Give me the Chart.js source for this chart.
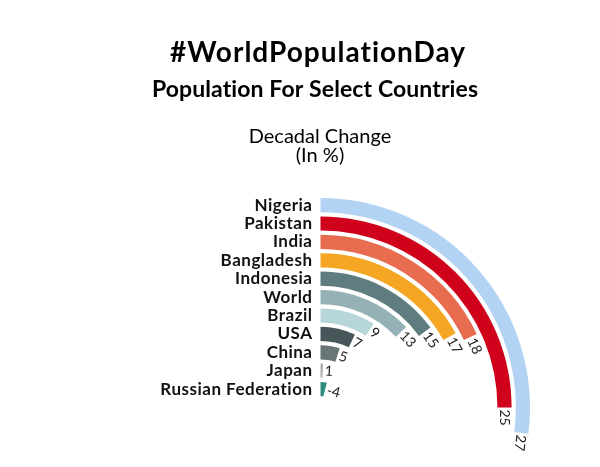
<!DOCTYPE html>
<html>
<head>
<meta charset="utf-8">
<title>#WorldPopulationDay</title>
<script src="https://cdn.jsdelivr.net/npm/chart.js@4.4.1/dist/chart.umd.min.js"></script>
<style>
  html, body { margin: 0; padding: 0; background: #fff; }
  #wrap { position: relative; width: 600px; height: 467px; }
</style>
</head>
<body>
<div id="wrap"><canvas id="radialChart"></canvas></div>
<script>
// data
var countries = ['Nigeria', 'Pakistan', 'India', 'Bangladesh', 'Indonesia', 'World',
  'Brazil', 'USA', 'China', 'Japan', 'Russian Federation'];
var decadalChange = [27, 25, 18, 17, 15, 13, 9, 7, 5, 1, -4];
var ringColors = ['#b3d3f4', '#d0021b', '#e86c4f', '#f5a623', '#5f7d80', '#94b1b5',
  '#b7d6da', '#475659', '#687678', '#aab2b6', '#2e8a7b'];
var fullTurn = 100; // 100 % = one full turn

var titleLines = ['#WorldPopulationDay', 'Population For Select Countries'];
var subtitleLines = ['Decadal Change', '(In %)'];

var ringWeight = 14.2;
var gapWeight = 4.2;

// one ring per country, with a thin empty ring between them
var datasets = [];
countries.forEach(function (name, i) {
  if (i > 0) {
    datasets.push({ data: [1], backgroundColor: 'rgba(0,0,0,0)', borderWidth: 0, weight: gapWeight, spacer: true });
  }
  datasets.push({
    label: name,
    data: [decadalChange[i], fullTurn - Math.abs(decadalChange[i])],
    backgroundColor: [ringColors[i], 'rgba(0,0,0,0)'],
    borderWidth: 0,
    weight: ringWeight
  });
});

var textPlugin = {
  id: 'radialText',
  afterDraw: function (chart) {
    var ctx = chart.ctx;
    ctx.save();
    ctx.textRendering = 'optimizeSpeed'; // no "ti" ligature in Lato
    ctx.fillStyle = '#000';
    ctx.textAlign = 'center';
    ctx.textBaseline = 'alphabetic';
    ctx.letterSpacing = '1px';
    ctx.font = 'bold 28px Lato';
    ctx.fillText(titleLines[0], 318, 62);
    ctx.letterSpacing = '0.1px';
    ctx.font = 'bold 23px Lato';
    ctx.fillText(titleLines[1], 315, 97);
    ctx.letterSpacing = '0px';
    ctx.font = '20px Lato';
    ctx.fillText(subtitleLines[0], 320, 143);
    ctx.fillText(subtitleLines[1], 320, 162);

    chart.data.datasets.forEach(function (ds, di) {
      if (ds.spacer) return;
      var arc = chart.getDatasetMeta(di).data[0];
      var midR = (arc.innerRadius + arc.outerRadius) / 2;

      // country name to the left of the ring start
      ctx.fillStyle = '#111';
      ctx.font = 'bold 17px Lato';
      ctx.letterSpacing = '0.5px';
      ctx.textAlign = 'right';
      ctx.textBaseline = 'middle';
      ctx.fillText(ds.label, arc.x - 8, arc.y - midR);
      ctx.letterSpacing = '0px';

      // value at the end of the ring, turned along the ring
      var a = arc.endAngle;
      ctx.save();
      ctx.translate(arc.x + midR * Math.cos(a), arc.y + midR * Math.sin(a));
      ctx.rotate(a + Math.PI / 2);
      ctx.fillStyle = '#222';
      ctx.font = '14px Lato';
      ctx.textAlign = 'left';
      ctx.fillText(String(ds.data[0]), 2, 0);
      ctx.restore();
    });
    ctx.restore();
  }
};

var contexto = document.getElementById('radialChart');
var grafico = new Chart(contexto, {
  type: 'doughnut',
  data: {
    labels: ['value', 'rest'],
    datasets: datasets
  },
  options: {
    responsive: true,
    maintainAspectRatio: false,
    animation: false,
    events: [],
    radius: 209.5,
    cutout: '5.4%',
    rotation: 0,
    circumference: 360,
    layout: {
      padding: { left: 41, right: 0, top: 348, bottom: 0 }
    },
    plugins: {
      legend: { display: false },
      tooltip: { enabled: false }
    }
  },
  plugins: [textPlugin]
});
</script>
</body>
</html>
